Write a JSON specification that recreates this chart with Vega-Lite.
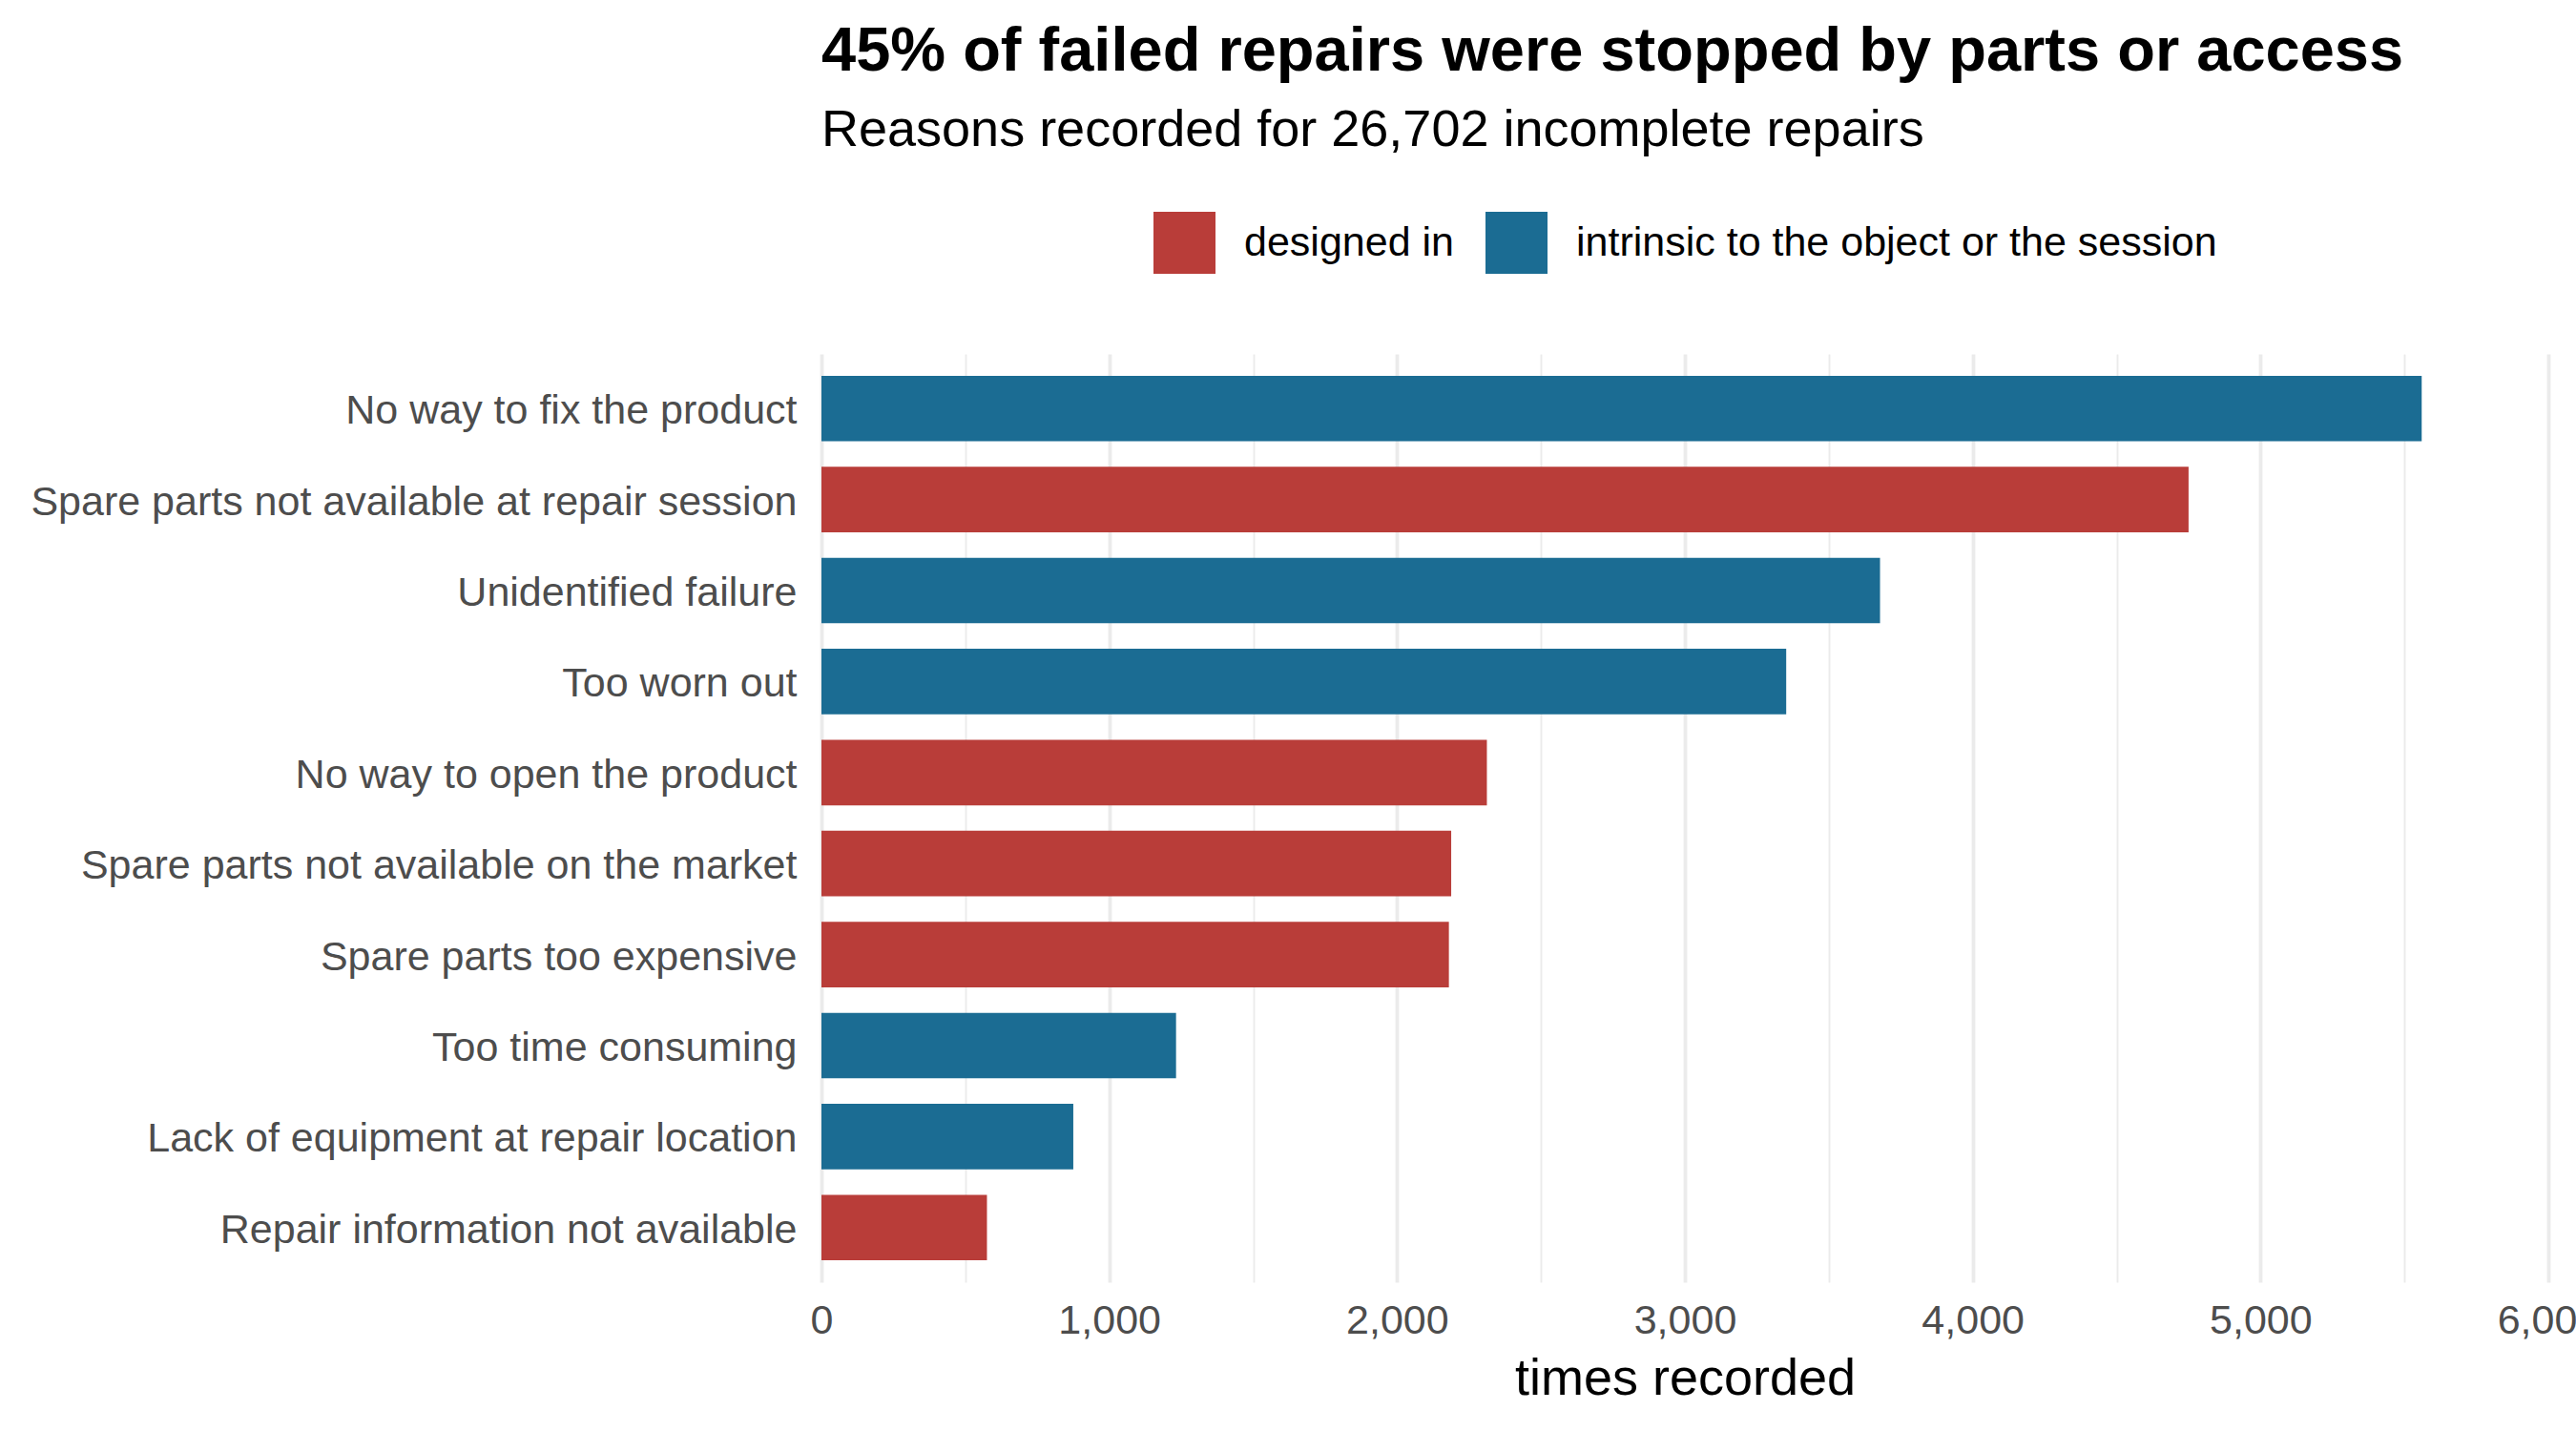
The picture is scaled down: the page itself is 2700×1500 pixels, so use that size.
{
  "$schema": "https://vega.github.io/schema/vega-lite/v6.json",
  "width": 1810,
  "height": 973,
  "autosize": {"type": "none"},
  "padding": {"left": 861, "top": 371, "right": 29, "bottom": 156},
  "background": "white",
  "config": {
    "font": "Liberation Sans",
    "view": {"stroke": null}
  },
  "title": {
    "text": "45% of failed repairs were stopped by parts or access",
    "subtitle": "Reasons recorded for 26,702 incomplete repairs",
    "anchor": "start",
    "frame": "group",
    "fontSize": 65,
    "fontWeight": "bold",
    "color": "black",
    "subtitleFontSize": 54,
    "subtitleColor": "black",
    "subtitlePadding": 22,
    "offset": 57
  },
  "data": {
    "values": [
      {"reason": "No way to fix the product", "count": 5560, "type": "intrinsic to the object or the session"},
      {"reason": "Spare parts not available at repair session", "count": 4750, "type": "designed in"},
      {"reason": "Unidentified failure", "count": 3678, "type": "intrinsic to the object or the session"},
      {"reason": "Too worn out", "count": 3352, "type": "intrinsic to the object or the session"},
      {"reason": "No way to open the product", "count": 2312, "type": "designed in"},
      {"reason": "Spare parts not available on the market", "count": 2188, "type": "designed in"},
      {"reason": "Spare parts too expensive", "count": 2180, "type": "designed in"},
      {"reason": "Too time consuming", "count": 1232, "type": "intrinsic to the object or the session"},
      {"reason": "Lack of equipment at repair location", "count": 875, "type": "intrinsic to the object or the session"},
      {"reason": "Repair information not available", "count": 575, "type": "designed in"}
    ]
  },
  "mark": {"type": "bar", "strokeWidth": 0},
  "encoding": {
    "y": {
      "field": "reason",
      "type": "nominal",
      "sort": "-x",
      "scale": {"paddingInner": 0.28, "paddingOuter": 0.24},
      "axis": {
        "title": null,
        "ticks": false,
        "domain": false,
        "grid": false,
        "labelFontSize": 43,
        "labelColor": "#4d4d4d",
        "labelPadding": 26,
        "labelOffset": 3,
        "labelLimit": 1200
      }
    },
    "x": {
      "field": "count",
      "type": "quantitative",
      "scale": {"domain": [0, 6000], "nice": false},
      "axis": {
        "title": "times recorded",
        "titleFontSize": 54,
        "titleFontWeight": "normal",
        "titleColor": "black",
        "titlePadding": 12,
        "values": [0, 500, 1000, 1500, 2000, 2500, 3000, 3500, 4000, 4500, 5000, 5500, 6000],
        "labelExpr": "datum.value % 1000 === 0 ? format(datum.value, ',') : ''",
        "labelFlush": false,
        "labelOverlap": false,
        "labelFontSize": 43,
        "labelColor": "#4d4d4d",
        "labelPadding": 19,
        "ticks": false,
        "tickSize": 0,
        "domain": false,
        "grid": true,
        "gridColor": "#ebebeb",
        "gridWidth": {"condition": {"test": "datum.value % 1000 === 0", "value": 3.8}, "value": 1.9}
      }
    },
    "color": {
      "field": "type",
      "type": "nominal",
      "scale": {
        "domain": ["designed in", "intrinsic to the object or the session"],
        "range": ["#b93d39", "#1b6c93"]
      },
      "legend": {
        "title": null,
        "orient": "none",
        "direction": "horizontal",
        "legendX": 348,
        "legendY": -149,
        "padding": 0,
        "symbolType": "square",
        "symbolSize": 4225,
        "symbolStrokeWidth": 0,
        "symbolOpacity": 1,
        "labelFontSize": 43,
        "labelColor": "black",
        "labelOffset": 30,
        "labelLimit": 1200,
        "columnPadding": 33
      }
    }
  }
}
